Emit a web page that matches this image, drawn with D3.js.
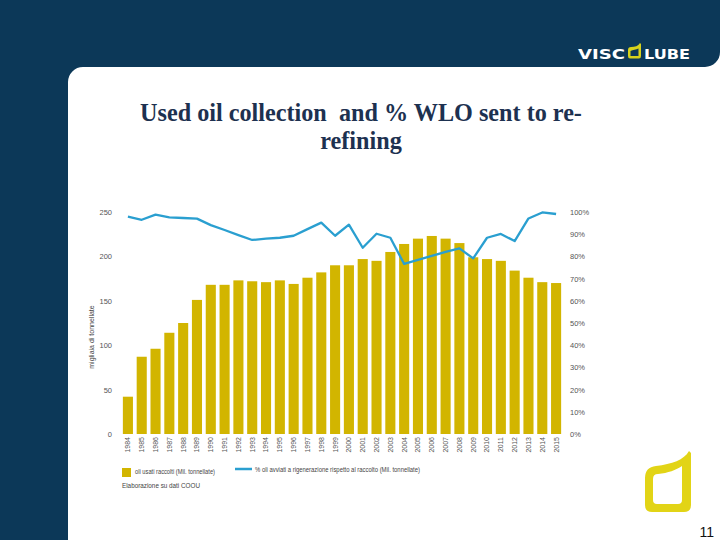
<!DOCTYPE html>
<html>
<head>
<meta charset="utf-8">
<script src="https://cdn.jsdelivr.net/npm/d3@7"></script>
<style>
  html, body { margin: 0; padding: 0; background: #fff; }
  svg { display: block; }
</style>
</head>
<body>
<svg id="chart" width="720" height="540"></svg>
<script>
const years = ["1984","1985","1986","1987","1988","1989","1990","1991","1992","1993","1994","1995","1996","1997","1998","1999","2000","2001","2002","2003","2004","2005","2006","2007","2008","2009","2010","2011","2012","2013","2014","2015"];
const collected = [42,87,96,114,125,151,168,168,173,172,171,173,169,176,182,190,190,197,195,205,214,220,223,220,215,199,197,195,184,176,171,170];
const rerefinedPct = [97.9,96.5,98.8,97.6,97.3,97.0,94.1,91.9,89.6,87.4,88.0,88.4,89.3,92.3,95.2,89.3,94.3,83.9,90.2,88.4,76.6,78.4,80.2,82.0,83.6,79.1,88.4,90.1,86.9,97.1,99.8,99.1];
const leftTicks = [0,50,100,150,200,250];
const rightTicks = [0,10,20,30,40,50,60,70,80,90,100];
const titleLines = ["Used oil collection  and % WLO sent to re-", "refining"];
const yAxisTitle = "migliaia di tonnellate";
const legendBar = "oli usati raccolti (Mil. tonnellate)";
const legendLine = "% oli avviati a rigenerazione rispetto al raccolto (Mil. tonnellate)";
const sourceNote = "Elaborazione su dati COOU";
const pageNumber = "11";

const svg = d3.select("#chart");
const navy = "#0c3858";

// Background frame
svg.append("rect").attr("width",720).attr("height",540).attr("fill","#fff");
svg.append("path")
  .attr("d","M0,0 H720 V52 A15,15 0 0 1 705,67 H83 A15,15 0 0 0 68,82 V540 H0 Z")
  .attr("fill",navy);

// Logo
const logo = svg.append("g");
logo.append("text").attr("x",578).attr("y",58.5).text("VISC")
  .attr("font-family","DejaVu Sans").attr("font-weight","600").attr("font-size",13.5)
  .attr("fill","#fff").attr("textLength",47).attr("lengthAdjust","spacingAndGlyphs");
logo.append("path")
  .attr("d","M628,50 Q628,47 631,47 C635,47 638,46 640,43 L641,44 L641,56 Q641,58.5 639,58.5 L630,58.5 Q628,58.5 628,56 Z M630.5,51 L630.5,56 L638.5,56 L638.5,48.5 C636,49.5 633,50 630.5,51 Z")
  .attr("fill","#d6d21c").attr("fill-rule","evenodd");
logo.append("text").attr("x",644).attr("y",58.5).text("LUBE")
  .attr("font-family","DejaVu Sans").attr("font-weight","600").attr("font-size",13.5)
  .attr("fill","#fff").attr("textLength",46).attr("lengthAdjust","spacingAndGlyphs");

// Big yellow mark bottom right
svg.append("path")
  .attr("d","M645,478 Q645,467 656,466 C672,464 684,460 689,451 L691,453 L691,505 Q691,512 684,512 L652,512 Q645,512 645,505 Z " +
            "M653,479 Q653,474 658,474 C668,473 676,470 682,466 L682,500 Q682,504 678,504 L657,504 Q653,504 653,500 Z")
  .attr("fill","#e2d416").attr("fill-rule","evenodd");

// Title
svg.append("g").selectAll("text").data(titleLines).join("text")
  .attr("x",361).attr("y",(d,i)=>121 + i*28)
  .attr("text-anchor","middle")
  .attr("xml:space","preserve")
  .style("white-space","pre")
  .attr("font-family","Liberation Serif, Times New Roman, serif")
  .attr("font-weight","bold").attr("font-size",24.2)
  .attr("fill","#1d3150")
  .text(d=>d);

// Scales
const x = d3.scaleBand().domain(years).range([121,563]).paddingInner(0.27).paddingOuter(0.135);
const y = d3.scaleLinear().domain([0,250]).range([434,212]);
const yR = d3.scaleLinear().domain([0,100]).range([434,212]);

const tickColor = "#555";
const tickFont = "Liberation Sans, Arial, sans-serif";

// Left axis
const gL = svg.append("g").attr("transform","translate(121,0)")
  .call(d3.axisLeft(y).tickValues(leftTicks).tickSize(0).tickPadding(9));
gL.select(".domain").remove();
gL.selectAll("text").attr("font-size",7.5).attr("font-family",tickFont).attr("fill",tickColor);

// Right axis
const gR = svg.append("g").attr("transform","translate(563,0)")
  .call(d3.axisRight(yR).tickValues(rightTicks).tickSize(0).tickPadding(7).tickFormat(d=>d+"%"));
gR.select(".domain").remove();
gR.selectAll("text").attr("font-size",7.5).attr("font-family",tickFont).attr("fill",tickColor);

// X axis
const gX = svg.append("g").attr("transform","translate(0,434)")
  .call(d3.axisBottom(x).tickSize(0));
gX.select(".domain").remove();
gX.selectAll("text")
  .attr("font-size",7).attr("font-family",tickFont).attr("fill",tickColor)
  .attr("transform","rotate(-90)")
  .attr("text-anchor","end")
  .attr("x",-3).attr("y",0).attr("dy","0.35em");

// Y axis title
svg.append("text")
  .attr("transform","translate(94,337) rotate(-90)")
  .attr("text-anchor","middle")
  .attr("font-size",7).attr("font-family",tickFont).attr("fill","#444")
  .text(yAxisTitle);

// Bars
svg.append("g").selectAll("rect").data(years).join("rect")
  .attr("x",d=>x(d)).attr("width",x.bandwidth())
  .attr("y",(d,i)=>y(collected[i]))
  .attr("height",(d,i)=>y(0)-y(collected[i]))
  .attr("fill","#d2b500");

// Line
const line = d3.line()
  .x((d,i)=>x(years[i]) + x.bandwidth()/2)
  .y(d=>yR(d));
svg.append("path").datum(rerefinedPct)
  .attr("d",line).attr("fill","none")
  .attr("stroke","#2a9fd0").attr("stroke-width",2.3).attr("stroke-linejoin","round");

// Legend
svg.append("rect").attr("x",122).attr("y",468).attr("width",9).attr("height",9).attr("fill","#d2b500");
svg.append("text").attr("x",135).attr("y",474).text(legendBar)
  .attr("font-size",6.5).attr("font-family",tickFont).attr("fill","#444")
  .attr("textLength",80).attr("lengthAdjust","spacingAndGlyphs");
svg.append("line").attr("x1",235).attr("x2",252).attr("y1",469).attr("y2",469)
  .attr("stroke","#2a9fd0").attr("stroke-width",2.5);
svg.append("text").attr("x",255).attr("y",471.5).text(legendLine)
  .attr("font-size",6.5).attr("font-family",tickFont).attr("fill","#444")
  .attr("textLength",165).attr("lengthAdjust","spacingAndGlyphs");
svg.append("text").attr("x",122).attr("y",488).text(sourceNote)
  .attr("font-size",7).attr("font-family",tickFont).attr("fill","#444")
  .attr("textLength",78).attr("lengthAdjust","spacingAndGlyphs");

// Page number
svg.append("text").attr("x",714).attr("y",537).attr("text-anchor","end")
  .attr("font-size",14).attr("font-family",tickFont).attr("fill","#111")
  .text(pageNumber);
</script>
</body>
</html>
